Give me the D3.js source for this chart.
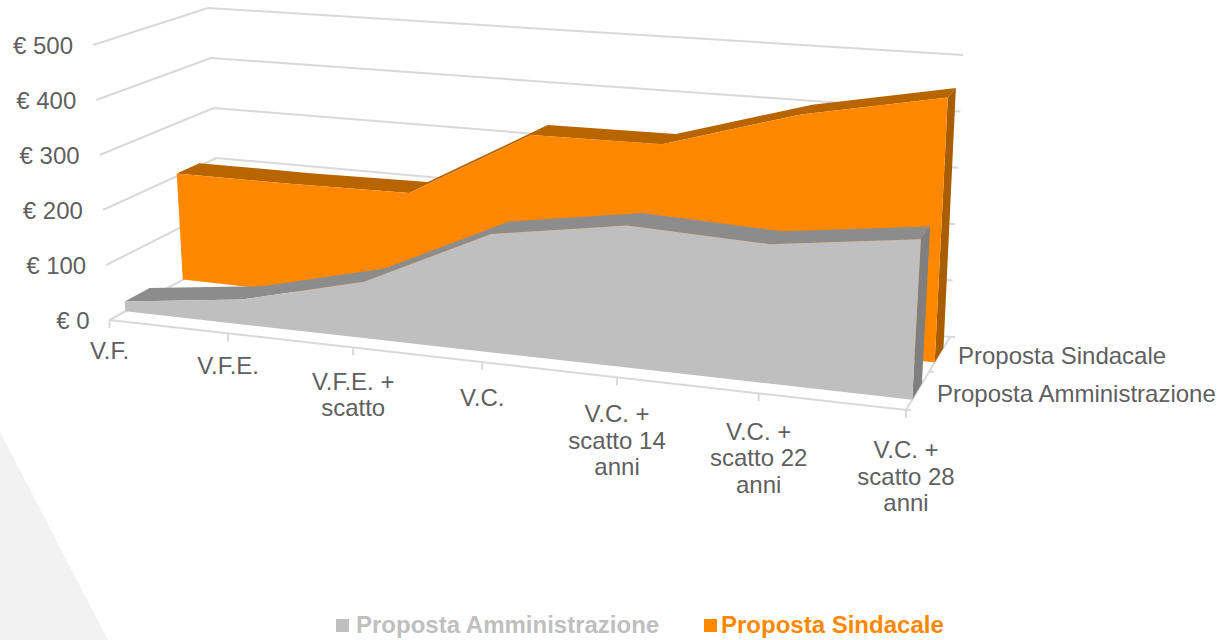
<!DOCTYPE html>
<html>
<head>
<meta charset="utf-8">
<script src="https://cdn.jsdelivr.net/npm/d3@7"></script>
<style>
  html, body { margin: 0; padding: 0; background: #fff; }
  text { font-family: "Liberation Sans", Arial, sans-serif; }
</style>
</head>
<body>
<div id="chart"></div>
<script>
// Chart data
const categories = [
  ["V.F."],
  ["V.F.E."],
  ["V.F.E. +", "scatto"],
  ["V.C."],
  ["V.C. +", "scatto 14", "anni"],
  ["V.C. +", "scatto 22", "anni"],
  ["V.C. +", "scatto 28", "anni"]
];
const valueTicks = [0, 100, 200, 300, 400, 500];
const seriesNames = ["Proposta Amministrazione", "Proposta Sindacale"];
const amministrazione = [18, 45, 100, 206, 242, 232, 262];
const sindacale = [205, 205, 208, 334, 336, 407, 454];

const width = 1226, height = 640;

// Corners of the 3D box on the page: floor and the top plane (value 500)
const floorCorners = [[109.5, 320], [906, 410], [950, 337], [222, 258]];
const topCorners = [[93, 45], [923, 100], [963, 55], [208, 8]];

// Maps the unit square to a four sided shape
function squareToQuad(q) {
  const [[x0, y0], [x1, y1], [x2, y2], [x3, y3]] = q;
  const dx1 = x1 - x2, dx2 = x3 - x2, sx = x0 - x1 + x2 - x3;
  const dy1 = y1 - y2, dy2 = y3 - y2, sy = y0 - y1 + y2 - y3;
  const den = dx1 * dy2 - dx2 * dy1;
  const g = (sx * dy2 - dx2 * sy) / den;
  const h = (dx1 * sy - sx * dy1) / den;
  const a = x1 - x0 + g * x1, b = x3 - x0 + h * x3;
  const d = y1 - y0 + g * y1, e = y3 - y0 + h * y3;
  return (u, v) => {
    const w = g * u + h * v + 1;
    return [(a * u + b * v + x0) / w, (d * u + e * v + y0) / w];
  };
}
const floorMap = squareToQuad(floorCorners);
const topMap = squareToQuad(topCorners);

// Scales (piecewise on x for the foreshortening of the front edge)
const x = d3.scaleLinear()
  .domain(d3.range(categories.length))
  .range([0, 0.155, 0.316, 0.4796, 0.648, 0.822, 1]);
const y = d3.scaleLinear().domain([0, 500]).range([0, 1]);

// category index, value, depth (0 = front, 1 = back) to page position
function project(i, v, depth) {
  const f = floorMap(x(i), depth);
  const t = topMap(x(i), depth);
  return d3.interpolateArray(f, t)(y(v));
}

const svg = d3.select("#chart")
  .append("svg")
  .attr("width", width)
  .attr("height", height)
  .attr("viewBox", [0, 0, width, height]);

const line = d3.line();
const poly = (pts) => line(pts) + "Z";

// Background shape, bottom left
svg.append("path")
  .attr("d", poly([[0, 432], [108, 640], [0, 640]]))
  .attr("fill", "#f2f2f2");

// Gridlines on left and back wall
const grid = svg.append("g").attr("fill", "none").attr("stroke", "#d9d9d9").attr("stroke-width", 2);
valueTicks.forEach((v) => {
  const last = categories.length - 1;
  grid.append("path").attr("d", line([project(0, v, 0), project(0, v, 1), project(last, v, 1)]));
});

// Floor axes
const axisG = svg.append("g").attr("fill", "none").attr("stroke", "#d9d9d9").attr("stroke-width", 2);
axisG.append("path").attr("d", line([project(0, 0, 0), project(categories.length - 1, 0, 0), project(categories.length - 1, 0, 1)]));
categories.forEach((c, i) => {
  const p = project(i, 0, 0);
  axisG.append("path").attr("d", line([p, [p[0], p[1] + 8]]));
});
[0, 0.5, 1].forEach((d) => {
  const p = project(categories.length - 1, 0, d);
  axisG.append("path").attr("d", line([p, [p[0] + 5, p[1]]]));
});

// One slab of the 3D area
function drawSlab(values, front, back, colors) {
  const g = svg.append("g");
  const last = values.length - 1;
  const frontTop = values.map((v, i) => project(i, v, front));
  const backTop = values.map((v, i) => project(i, v, back));
  const frontBottom = values.map((v, i) => project(i, 0, front));

  g.append("path").attr("d", poly(frontTop.concat(backTop.slice().reverse()))).attr("fill", colors.top);
  g.append("path")
    .attr("d", poly([frontTop[last], backTop[last], project(last, 0, back), frontBottom[last]]))
    .attr("fill", colors.side);
  g.append("path").attr("d", poly(frontTop.concat(frontBottom.slice().reverse()))).attr("fill", colors.face);
}

drawSlab(sindacale, 0.63, 0.84, { face: "#ff8800", top: "#b86500", side: "#a85e00" });
drawSlab(amministrazione, 0.13, 0.34, { face: "#bfbfbf", top: "#8c8c8c", side: "#7f7f7f" });

// Value labels, they follow the slanted front edge of the left wall
svg.append("g")
  .selectAll("text")
  .data(valueTicks)
  .enter()
  .append("text")
  .attr("x", (d) => project(0, d, 0)[0] - 20)
  .attr("y", (d) => project(0, d, 0)[1] + 9)
  .attr("text-anchor", "end")
  .attr("font-size", 24)
  .attr("fill", "#5f5f5f")
  .text((d) => "€ " + d);

// Category labels
categories.forEach((c, i) => {
  const p = project(i, 0, 0);
  const t = svg.append("text")
    .attr("text-anchor", "middle")
    .attr("font-size", 24)
    .attr("fill", "#5f5f5f");
  c.forEach((s, k) => {
    t.append("tspan")
      .attr("x", p[0])
      .attr("y", p[1] + 39 + 1.5 * i + k * 26.5)
      .text(s);
  });
});

// Depth labels
svg.append("text")
  .attr("x", 958).attr("y", 364)
  .attr("font-size", 24).attr("fill", "#5f5f5f")
  .text(seriesNames[1]);
svg.append("text")
  .attr("x", 937).attr("y", 402)
  .attr("font-size", 24).attr("fill", "#5f5f5f")
  .text(seriesNames[0]);

// Legend
const legend = [
  { name: seriesNames[0], box: 336, label: 356, color: "#bfbfbf" },
  { name: seriesNames[1], box: 704, label: 721, color: "#ff8800" }
];
legend.forEach((l) => {
  svg.append("rect").attr("x", l.box).attr("y", 619).attr("width", 13).attr("height", 13).attr("fill", l.color);
  svg.append("text")
    .attr("x", l.label).attr("y", 633)
    .attr("font-size", 24).attr("font-weight", "bold").attr("fill", l.color)
    .text(l.name);
});
</script>
</body>
</html>
